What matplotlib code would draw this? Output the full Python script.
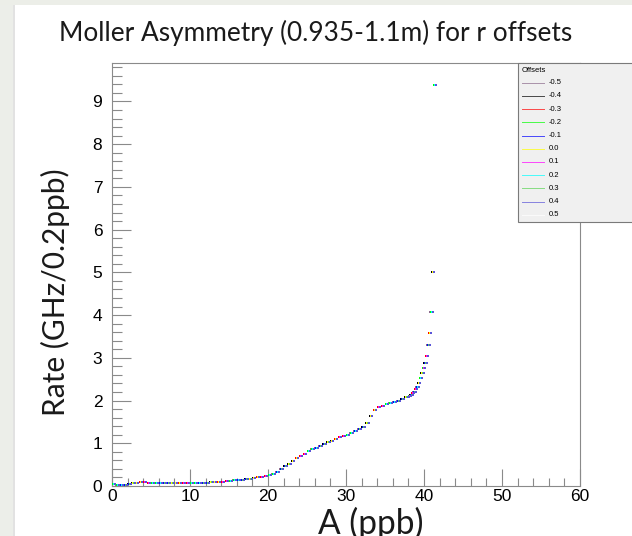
import numpy as np
import matplotlib.pyplot as plt
from matplotlib.lines import Line2D
from matplotlib.patches import Rectangle
from matplotlib.ticker import MultipleLocator
from matplotlib.textpath import TextPath
from matplotlib.font_manager import FontProperties

plt.rcParams["font.family"] = ["Liberation Sans", "DejaVu Sans"]

# offsets (legend) and ROOT-like colours
OFFSETS = ["-0.5", "-0.4", "-0.3", "-0.2", "-0.1", "0.0", "0.1", "0.2", "0.3", "0.4", "0.5"]
COLORS = ["#8c6a8c", "#000000", "#ff0000", "#00ff00", "#0000ff", "#ffff00",
          "#ff00ff", "#00ffff", "#59d454", "#5954d8", "#ffffff"]

X_TICKS = [0, 10, 20, 30, 40, 50, 60]
Y_TICKS = [0, 1, 2, 3, 4, 5, 6, 7, 8, 9]

# bin centres (ppb) and rate (GHz/0.2ppb)
A_BINS = [0.25, 0.75, 1.25, 1.75, 2.25, 2.75, 3.25, 3.75, 4.25, 4.75,
          5.25, 5.75, 6.25, 6.75, 7.25, 7.75, 8.25, 8.75, 9.25, 9.75,
          10.25, 10.75, 11.25, 11.75, 12.25, 12.75, 13.25, 13.75, 14.25, 14.75,
          15.25, 15.75, 16.25, 16.75, 17.25, 17.75, 18.25, 18.75, 19.25, 19.75,
          20.25, 20.75, 21.25, 21.75, 22.25, 22.75, 23.25, 23.75, 24.25, 24.75,
          25.25, 25.75, 26.25, 26.75, 27.25, 27.75, 28.25, 28.75, 29.25, 29.75,
          30.25, 30.75, 31.25, 31.75, 32.25, 32.75, 33.25, 33.75, 34.25, 34.75,
          35.25, 35.75, 36.25, 36.75, 37.25, 37.75,
          38.0, 38.2, 38.4, 38.6, 38.8, 39.0, 39.2, 39.4, 39.6, 39.8,
          40.0, 40.2, 40.4, 40.6, 40.8, 41.0, 41.2, 41.4]
RATE = [0.05, 0.03, 0.02, 0.03, 0.05, 0.07, 0.08, 0.09, 0.09, 0.08,
        0.08, 0.08, 0.07, 0.07, 0.07, 0.07, 0.06, 0.06, 0.07, 0.07,
        0.07, 0.07, 0.07, 0.08, 0.08, 0.09, 0.09, 0.10, 0.10, 0.11,
        0.12, 0.13, 0.14, 0.15, 0.16, 0.17, 0.18, 0.20, 0.21, 0.23,
        0.25, 0.27, 0.32, 0.40, 0.46, 0.52, 0.58, 0.65, 0.71, 0.76,
        0.81, 0.86, 0.89, 0.93, 0.98, 1.02, 1.06, 1.10, 1.14, 1.17,
        1.20, 1.24, 1.28, 1.33, 1.39, 1.48, 1.64, 1.77, 1.84, 1.88,
        1.91, 1.94, 1.97, 2.00, 2.04, 2.08,
        2.09, 2.11, 2.14, 2.17, 2.21, 2.26, 2.32, 2.41, 2.52, 2.64,
        2.76, 2.87, 3.05, 3.29, 3.59, 4.08, 5.02, 9.38]

W, H = 632, 536
fig = plt.figure(figsize=(W / 100, H / 100), dpi=100)
fig.patch.set_facecolor("white")

# slide background strips
fig.add_artist(Rectangle((0, 0), 15 / W, 1, transform=fig.transFigure,
                         facecolor="#eceee9", edgecolor="none"))
fig.add_artist(Rectangle((13 / W, 0), 2 / W, 1 - 5 / H, transform=fig.transFigure,
                         facecolor="#e2e2e2", edgecolor="none"))
fig.add_artist(Rectangle((0, 1 - 5 / H), 1, 5 / H, transform=fig.transFigure,
                         facecolor="#eceee8", edgecolor="none"))

ax = fig.add_axes([112 / W, 50 / H, 468 / W, 423 / H])

dodge = 0.035
for k, (off, col) in enumerate(zip(OFFSETS, COLORS)):
    ax.plot(np.array(A_BINS) + (k - 5) * dodge, RATE, ls="none", marker="s",
            ms=2.0, mew=0, color=col,
            zorder=3 if col != "#ffffff" else 1)

for s in ax.spines.values():
    s.set_color("#8a8a8a")
    s.set_linewidth(0.8)

ax.set_xticks(X_TICKS, [str(t) for t in X_TICKS], fontsize=12.5, family="Liberation Sans")
ax.set_yticks(Y_TICKS, [str(t) for t in Y_TICKS], fontsize=12.5, family="Liberation Sans")
ax.xaxis.set_minor_locator(MultipleLocator(2))
ax.yaxis.set_minor_locator(MultipleLocator(0.2))
ax.set_xlim(0, 60)
ax.set_ylim(0, 9.9)
ax.tick_params(axis="x", which="major", direction="in", length=12, width=0.8,
               color="#8a8a8a", pad=2)
ax.tick_params(axis="x", which="minor", direction="in", length=6, width=0.8, color="#8a8a8a")
ax.tick_params(axis="y", which="major", direction="in", length=14, width=0.8,
               color="#8a8a8a", pad=7)
ax.tick_params(axis="y", which="minor", direction="in", length=7, width=0.8, color="#8a8a8a")

# legend box (cut off by the right edge, as in the slide)
def px(x, y):
    return x / W, 1 - y / H

lx0, ly0 = px(518, 222)
fig.add_artist(Rectangle((lx0, ly0), 130 / W, 159 / H, transform=fig.transFigure,
                         facecolor="#f0f0f0", edgecolor="#7a7a7a", lw=0.8, zorder=5))
fig.text(*px(522, 70), "Offsets", fontsize=5.5, ha="left", va="center", zorder=6)
for i, (off, col) in enumerate(zip(OFFSETS, COLORS)):
    yy = 82.7 + i * 13.2
    x1, y1 = px(522, yy)
    x2, _ = px(544, yy)
    fig.add_artist(Line2D([x1, x2], [y1, y1], transform=fig.transFigure,
                          color=col, lw=0.7, alpha=0.7, zorder=6))
    fig.text(*px(549, yy), off, fontsize=5.5, ha="left", va="center", zorder=6)

# slide text; size chosen so the text length matches the picture
lato = FontProperties(family="Lato")

def fit_text(txt, x, y, length, rotation=0):
    w_pt = TextPath((0, 0), txt, size=16, prop=lato).get_extents().width
    size = 16 * length / (w_pt * 100 / 72)
    fig.text(*px(x, y), txt, ha="center", va="center", rotation=rotation,
             family="Lato", fontsize=size, color="#1a1a1a")

fit_text("Moller Asymmetry (0.935-1.1m) for r offsets", 316, 33, 510)
fit_text("A (ppb)", 371, 523, 104)
fit_text("Rate (GHz/0.2ppb)", 55, 292, 243, rotation=90)

fig.savefig("out.png", dpi=100)
